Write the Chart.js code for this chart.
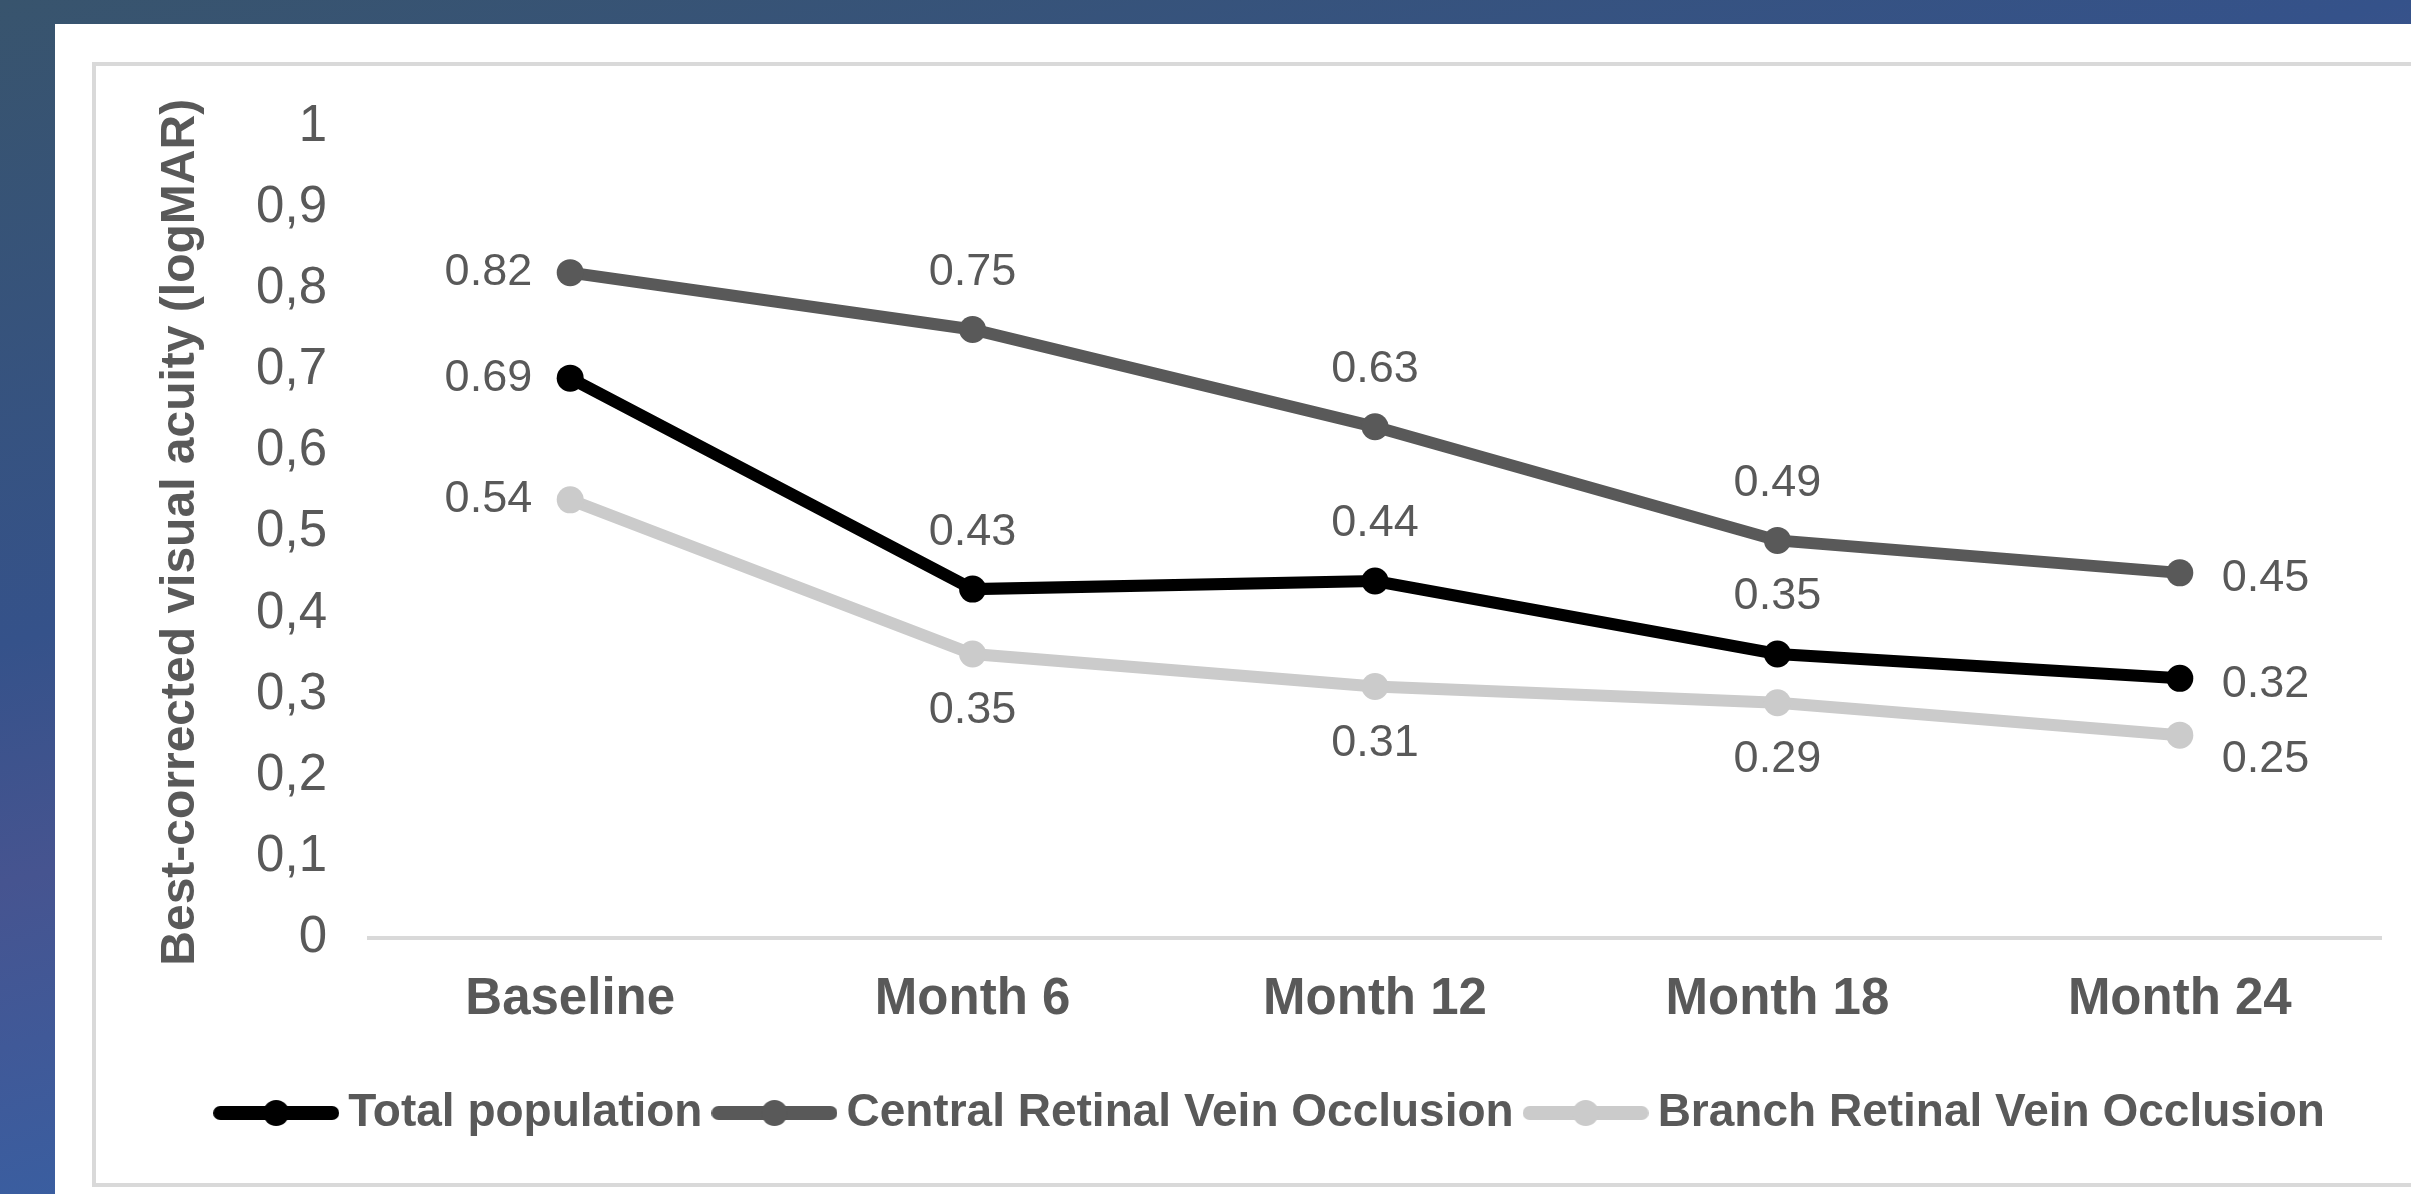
<!DOCTYPE html>
<html>
<head>
<meta charset="utf-8">
<script src="https://cdn.jsdelivr.net/npm/chart.js@4"></script>
<style>
  html, body { margin: 0; padding: 0; }
  body {
    width: 2411px; height: 1194px; overflow: hidden; position: relative;
    background: linear-gradient(165deg, #38546d 0%, #35528a 35%, #465490 48%, #3463a8 75%, #3a68ad 100%);
  }
  #panel { position: absolute; left: 55px; top: 24px; right: -60px; bottom: -20px; background: #fff; }
  #frame {
    position: absolute; left: 37px; top: 38px;
    width: 2358px; height: 1117px;
    border: 4px solid #d9d9d9;
  }
  #chart-box {
    position: absolute; left: 41px; top: 30px;
    width: 2358px; height: 1129px;
  }
</style>
</head>
<body>
<div id="panel">
  <div id="frame"></div>
  <div id="chart-box"><canvas id="chart"></canvas></div>
</div>
<script>
// 表示データ
const categories = ["Baseline", "Month 6", "Month 12", "Month 18", "Month 24"];
const totalPopulation = [0.69, 0.43, 0.44, 0.35, 0.32];
const centralRVO = [0.82, 0.75, 0.63, 0.49, 0.45];
const branchRVO = [0.54, 0.35, 0.31, 0.29, 0.25];
const yTicks = [0, 0.1, 0.2, 0.3, 0.4, 0.5, 0.6, 0.7, 0.8, 0.9, 1];

// ラベルの配置（点に対する位置）
const labelSpots = [
  ["left", "above", "above", "above", "right"],
  ["left", "above", "above", "above", "right"],
  ["left", "below", "below", "below", "belowright"]
];

const FONT = "'Liberation Sans', Arial, sans-serif";
const TEXT_GRAY = "#595959";

// 凡例用のアイコン（線＋マーカー）
function legendIcon(color) {
  const c = document.createElement("canvas");
  c.width = 126;
  c.height = 30;
  const g = c.getContext("2d");
  g.strokeStyle = color;
  g.lineWidth = 14;
  g.lineCap = "round";
  g.beginPath();
  g.moveTo(7, 15);
  g.lineTo(119, 15);
  g.stroke();
  g.fillStyle = color;
  g.beginPath();
  g.arc(63, 15, 13, 0, Math.PI * 2);
  g.fill();
  return c;
}

// データラベル描画
const valueLabels = {
  id: "valueLabels",
  afterDatasetsDraw(chart) {
    const ctx = chart.ctx;
    ctx.save();
    ctx.font = "45px " + FONT;
    ctx.fillStyle = TEXT_GRAY;
    ctx.textBaseline = "middle";
    chart.data.datasets.forEach((ds, di) => {
      const meta = chart.getDatasetMeta(di);
      meta.data.forEach((pt, i) => {
        const txt = ds.data[i].toFixed(2);
        const spot = labelSpots[di][i];
        let x = pt.x, y = pt.y;
        if (spot === "left") { ctx.textAlign = "right"; x -= 38; }
        else if (spot === "right") { ctx.textAlign = "left"; x += 42; y += 6; }
        else if (spot === "belowright") { ctx.textAlign = "left"; x += 42; y += 24; }
        else if (spot === "above") { ctx.textAlign = "center"; y -= 57; }
        else { ctx.textAlign = "center"; y += 57; }
        ctx.fillText(txt, x, y);
      });
    });
    ctx.restore();
  }
};

function makeDataset(label, data, color) {
  return {
    label: label,
    data: data,
    borderColor: color,
    backgroundColor: color,
    borderWidth: 12,
    pointRadius: 13.5,
    pointBorderWidth: 0,
    pointBackgroundColor: color,
    tension: 0
  };
}

const ctx = document.getElementById("chart").getContext("2d");
const chart = new Chart(ctx, {
  type: "line",
  data: {
    labels: categories,
    datasets: [
      makeDataset("Total population", totalPopulation, "#000000"),
      makeDataset("Central Retinal Vein Occlusion", centralRVO, "#595959"),
      makeDataset("Branch Retinal Vein Occlusion", branchRVO, "#cbcbcb")
    ]
  },
  options: {
    responsive: true,
    maintainAspectRatio: false,
    animation: false,
    layout: { padding: { top: 20, right: 73, bottom: 37, left: 75 } },
    scales: {
      x: {
        offset: true,
        grid: { display: false, drawTicks: false },
        border: { display: true, color: "#d9d9d9", width: 4 },
        ticks: {
          color: TEXT_GRAY,
          font: { family: FONT, size: 51, weight: "bold" },
          padding: 31,
          maxRotation: 0
        },
        afterFit(scale) { scale.height = 129; }
      },
      y: {
        min: 0,
        max: 1,
        afterBuildTicks(scale) { scale.ticks = yTicks.map(v => ({ value: v })); },
        grid: { display: false, drawTicks: false },
        border: { display: false },
        ticks: {
          color: TEXT_GRAY,
          font: { family: FONT, size: 51 },
          padding: 42,
          callback: v => (Math.round(v * 10) / 10).toString().replace(".", ",")
        },
        title: {
          display: true,
          text: "Best-corrected visual acuity (logMAR)",
          color: TEXT_GRAY,
          font: { family: FONT, size: 48, weight: "bold" },
          padding: { top: -19, bottom: 0 }
        },
        afterFit(scale) { scale.width = 198; }
      }
    },
    plugins: {
      tooltip: { enabled: false },
      legend: {
        position: "bottom",
        labels: {
          usePointStyle: true,
          pointStyleWidth: 98,
          padding: 23,
          color: TEXT_GRAY,
          font: { family: FONT, size: 46, weight: "bold" },
          generateLabels(chart) {
            return chart.data.datasets.map((ds, i) => ({
              text: ds.label,
              pointStyle: legendIcon(ds.borderColor),
              fillStyle: ds.borderColor,
              strokeStyle: ds.borderColor,
              lineWidth: 0,
              fontColor: TEXT_GRAY,
              hidden: false,
              datasetIndex: i
            }));
          }
        }
      }
    }
  },
  plugins: [valueLabels]
});
</script>
</body>
</html>
